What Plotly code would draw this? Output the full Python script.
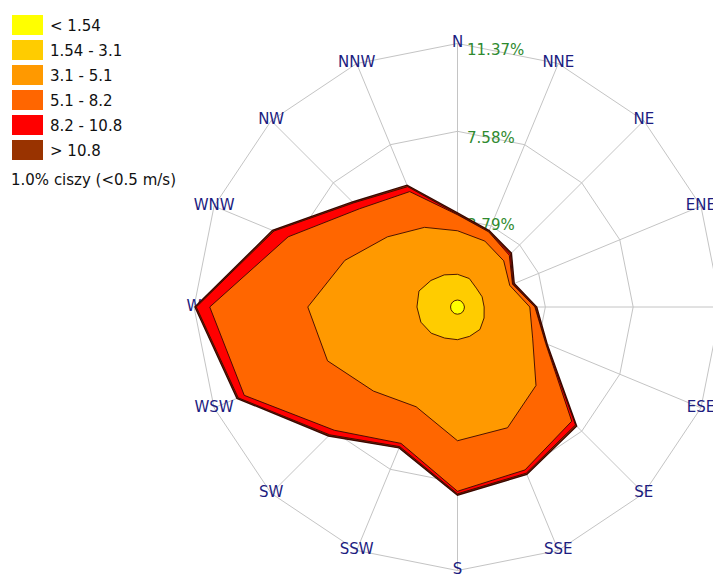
import plotly.graph_objects as go
import numpy as np

# ---- data -------------------------------------------------------------
directions = ["N", "NNE", "NE", "ENE", "E", "ESE", "SE", "SSE",
              "S", "SSW", "SW", "WSW", "W", "WNW", "NW", "NNW"]

speed_bins = ["< 1.54", "1.54 - 3.1", "3.1 - 5.1", "5.1 - 8.2", "8.2 - 10.8", "> 10.8"]
bin_colors = ["#FFFF00", "#FFCC00", "#FF9900", "#FF6600", "#FF0000", "#993300"]

# frequency [%] of each speed class per direction (N clockwise)
freq_lt_1_54 = [0.30, 0.30, 0.29, 0.29, 0.30, 0.30, 0.31, 0.31,
                0.31, 0.31, 0.30, 0.30, 0.30, 0.30, 0.30, 0.30]
freq_1_54_3_1 = [1.11, 1.03, 0.86, 0.86, 0.85, 0.94, 1.06, 1.06,
                 1.10, 1.14, 1.30, 1.41, 1.45, 1.50, 1.32, 1.20]
freq_3_1_5_1 = [1.88, 1.75, 1.67, 1.29, 1.97, 2.27, 3.42, 4.27,
                4.36, 3.21, 3.53, 4.36, 4.71, 3.46, 2.66, 2.22]
freq_5_1_8_2 = [0.69, 0.43, 0.34, 0.13, 0.22, 0.61, 2.18, 1.97,
                2.18, 1.71, 2.39, 3.89, 4.23, 2.65, 1.71, 1.67]
freq_8_2_10_8 = [0.02, 0.00, 0.07, 0.02, 0.02, 0.01, 0.23, 0.15,
                 0.11, 0.15, 0.28, 0.28, 0.58, 0.66, 0.36, 0.23]
freq_gt_10_8 = [0.06, 0.06, 0.06, 0.06, 0.06, 0.06, 0.07, 0.06,
                0.06, 0.06, 0.07, 0.06, 0.06, 0.07, 0.06, 0.07]

ring_ticks = [3.79, 7.58, 11.37]
ring_labels = ["3.79%", "7.58%", "11.37%"]
calm_text = "1.0% ciszy (<0.5 m/s)"

# ---- figure -----------------------------------------------------------
series = [freq_lt_1_54, freq_1_54_3_1, freq_3_1_5_1,
          freq_5_1_8_2, freq_8_2_10_8, freq_gt_10_8]
cum = np.cumsum(np.array(series), axis=0)

W, H = 713, 570   # page body adds an 8px margin

fig = go.Figure()

# ring labels (drawn first so the rose covers them, as in the original)
fig.add_trace(go.Scatterpolar(
    r=ring_ticks, theta=["N", "N", "N"],
    text=["\u00a0\u00a0" + t for t in ring_labels], mode="text",
    textposition="bottom right", cliponaxis=False,
    textfont=dict(family="DejaVu Sans", size=15, color="#2f8a2f"),
    hoverinfo="skip"))

# direction labels
fig.add_trace(go.Scatterpolar(
    r=[ring_ticks[-1]] * 16, theta=directions, text=directions, mode="text",
    textposition="middle center", cliponaxis=False,
    textfont=dict(family="DejaVu Sans", size=15, color="#1c1c80"),
    hoverinfo="skip"))

for k in range(len(series) - 1, -1, -1):
    rr = list(cum[k]) + [cum[k][0]]
    tt = directions + [directions[0]]
    fig.add_trace(go.Scatterpolar(
        r=rr, theta=tt, mode="lines", fill="toself",
        fillcolor=bin_colors[k],
        line=dict(color="#3a0800", width=1.4 if k == len(series) - 1 else 0.9),
        name=speed_bins[k], hoverinfo="skip"))

fig.update_layout(
    width=W, height=H,
    margin=dict(l=0, r=0, t=0, b=0),
    paper_bgcolor="white", plot_bgcolor="white",
    showlegend=False,
    polar=dict(
        domain=dict(x=[186 / W, 1], y=[7.5 / H, 534.5 / H]),
        gridshape="linear", bgcolor="white",
        angularaxis=dict(type="category", categoryorder="array",
                         categoryarray=directions,
                         rotation=90, direction="clockwise",
                         showticklabels=False, ticks="",
                         gridcolor="#c4c4c4", gridwidth=1,
                         showline=True, linecolor="#c4c4c4", linewidth=1,
                         layer="below traces"),
        radialaxis=dict(range=[0, ring_ticks[-1]], tickvals=ring_ticks,
                        showticklabels=False, ticks="", showline=False,
                        gridcolor="#c4c4c4", gridwidth=1,
                        layer="below traces"),
    ),
)

# legend drawn as boxes + text (coordinates in figure pixels)
row_top = 7
row_pitch = 25
box_h = 20
for i, (lab, col) in enumerate(zip(speed_bins, bin_colors)):
    y0 = row_top + i * row_pitch
    fig.add_shape(type="rect", xref="paper", yref="paper",
                  x0=4 / W, x1=35 / W,
                  y0=1 - (y0 + box_h) / H, y1=1 - y0 / H,
                  fillcolor=col, line=dict(width=0))
    fig.add_annotation(xref="paper", yref="paper",
                       x=40 / W, y=1 - (y0 + box_h / 2 + 1) / H,
                       text=lab, showarrow=False, xanchor="left", yanchor="middle",
                       font=dict(family="DejaVu Sans", size=15, color="#111111"))
fig.add_annotation(xref="paper", yref="paper",
                   x=1 / W, y=1 - 172 / H,
                   text=calm_text, showarrow=False, xanchor="left", yanchor="middle",
                   font=dict(family="DejaVu Sans", size=15, color="#111111"))

fig.write_html("out.html")
